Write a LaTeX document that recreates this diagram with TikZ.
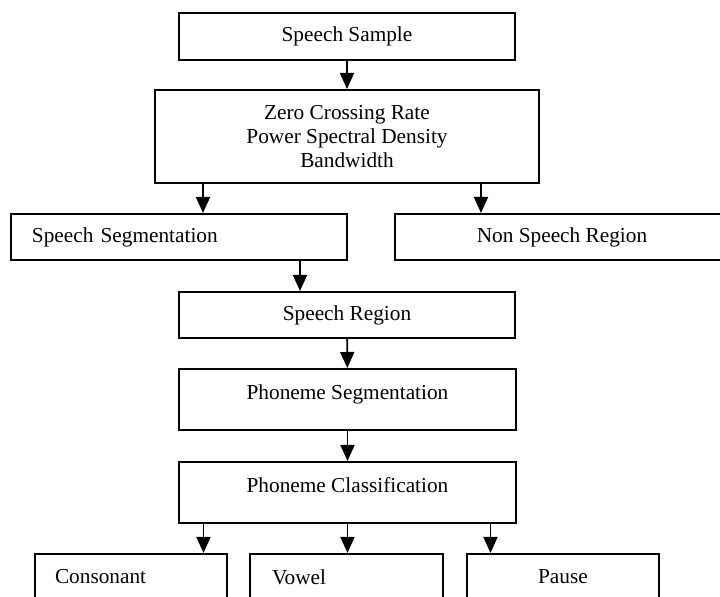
\documentclass[tikz,border=0pt]{standalone}
\usepackage{fontspec}
\setmainfont{Liberation Serif}
\usepackage{tikz}
\usetikzlibrary{positioning, arrows.meta}

\begin{document}
\begin{tikzpicture}[x=0.5pt, y=-0.5pt,
    box/.style={rectangle, draw, line width=1pt, inner sep=0pt, font=\fontsize{10.65}{11.9}\selectfont, align=center},
    lbox/.style={box, align=left},
    topbox/.style={box, text depth=7pt},
    arr/.style={line width=0.9pt, -{Triangle[length=8pt, width=7pt]}}]

\useasboundingbox (0,0) rectangle (720,597);

% boxes
\node[box, minimum width=168pt, minimum height=23.5pt] (sample) at (347, 36.5) {Speech Sample};
\node[box, minimum width=192pt, minimum height=46.5pt] (zcr) at (347, 136.5) {Zero Crossing Rate\\Power Spectral Density\\Bandwidth};
\node[lbox, text width=147pt, inner xsep=10.5pt, minimum height=23pt] (seg) at (179, 237) {Speech Segmentation};
\node[box, minimum width=167pt, minimum height=23pt] (nonsp) at (562, 237) {Non Speech Region};
\node[box, minimum width=168pt, minimum height=23pt] (region) at (347, 315) {Speech Region};
\node[topbox, minimum width=168.5pt, minimum height=30.5pt] (phseg) at (347.5, 399.5) {Phoneme Segmentation};
\node[topbox, minimum width=168.5pt, minimum height=30.5pt] (phclass) at (347.5, 492.5) {Phoneme Classification};
\node[lbox, text width=76pt, inner xsep=10pt, minimum height=23pt] (cons) at (131, 577) {Consonant};
\node[lbox, text width=74.5pt, inner xsep=11pt, minimum height=23pt] (vowel) at (346.5, 577) {Vowel};
\node[box, minimum width=96pt, minimum height=23pt] (pause) at (563, 577) {Pause};

% arrows
\draw[arr] (sample) -- (zcr);
\draw[arr] ([xshift=-72pt]zcr.south) -- ([xshift=-72pt]zcr.south |- seg.north);
\draw[arr] ([xshift=67pt]zcr.south) -- ([xshift=67pt]zcr.south |- nonsp.north);
\draw[arr] ([xshift=60.5pt]seg.south) -- ([xshift=60.5pt]seg.south |- region.north);
\draw[arr] (region) -- (phseg);
\draw[arr] (phseg) -- (phclass);
\draw[arr] ([xshift=-72pt]phclass.south) -- ([xshift=-72pt]phclass.south |- cons.north);
\draw[arr] (phclass.south) -- (phclass.south |- vowel.north);
\draw[arr] ([xshift=71.5pt]phclass.south) -- ([xshift=71.5pt]phclass.south |- pause.north);

\end{tikzpicture}
\end{document}
